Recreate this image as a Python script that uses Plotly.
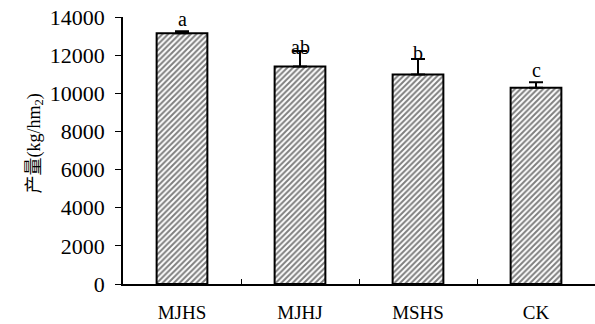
import plotly.graph_objects as go

categories = ["MJHS", "MJHJ", "MSHS", "CK"]
yield_mean = [13150, 11400, 10980, 10290]
yield_err = [100, 820, 820, 290]
sig_letters = ["a", "ab", "b", "c"]
letter_y = [13900, 12430, 12110, 11220]
y_ticks = [0, 2000, 4000, 6000, 8000, 10000, 12000, 14000]
y_ticktext = [str(v) for v in y_ticks]

FONT = "Liberation Serif, Noto Sans CJK SC, serif"

fig = go.Figure()
fig.add_trace(go.Bar(
    x=categories, y=yield_mean,
    marker=dict(color="white", line=dict(color="black", width=2),
                pattern=dict(shape="/", size=4, solidity=0.5, fgcolor="black", bgcolor="white")),
    error_y=dict(type="data", array=yield_err, arrayminus=[0]*4, symmetric=False,
                 color="black", thickness=2, width=7),
    width=0.43,
))

for c, ly, s in zip(categories, letter_y, sig_letters):
    fig.add_annotation(x=c, y=ly, text=s, showarrow=False, yanchor="middle",
                       font=dict(family=FONT, size=20, color="black"))

fig.add_annotation(xref="paper", yref="paper", x=0, y=0.5, xshift=-88, yshift=7,
                   text="产量(kg/hm<sub>2</sub>)", textangle=-90, showarrow=False,
                   xanchor="center", yanchor="middle",
                   font=dict(family=FONT, size=18, color="black"))

fig.update_layout(
    width=595, height=324,
    margin=dict(l=123, r=0, t=17, b=40, autoexpand=False),
    plot_bgcolor="white", paper_bgcolor="white",
    showlegend=False,
    font=dict(family=FONT, color="black"),
    xaxis=dict(showline=True, linecolor="black", linewidth=1.5, automargin=False,
               ticks="inside", tickson="boundaries", ticklen=5, tickcolor="black",
               tickfont=dict(family=FONT, size=19), range=[-0.5, 3.5],
               ticklabelstandoff=10),
    yaxis=dict(range=[0, 14000], tickvals=y_ticks, ticktext=y_ticktext, showline=True,
               linecolor="black", automargin=False,
               linewidth=1.5, ticks="outside", ticklen=6, tickcolor="black",
               showgrid=False, zeroline=False,
               tickfont=dict(family=FONT, size=22), ticklabelstandoff=6),
)

fig.write_html("out.html", config={"displayModeBar": False},
               post_script="document.body.style.margin='0';document.body.style.overflow='hidden';")
